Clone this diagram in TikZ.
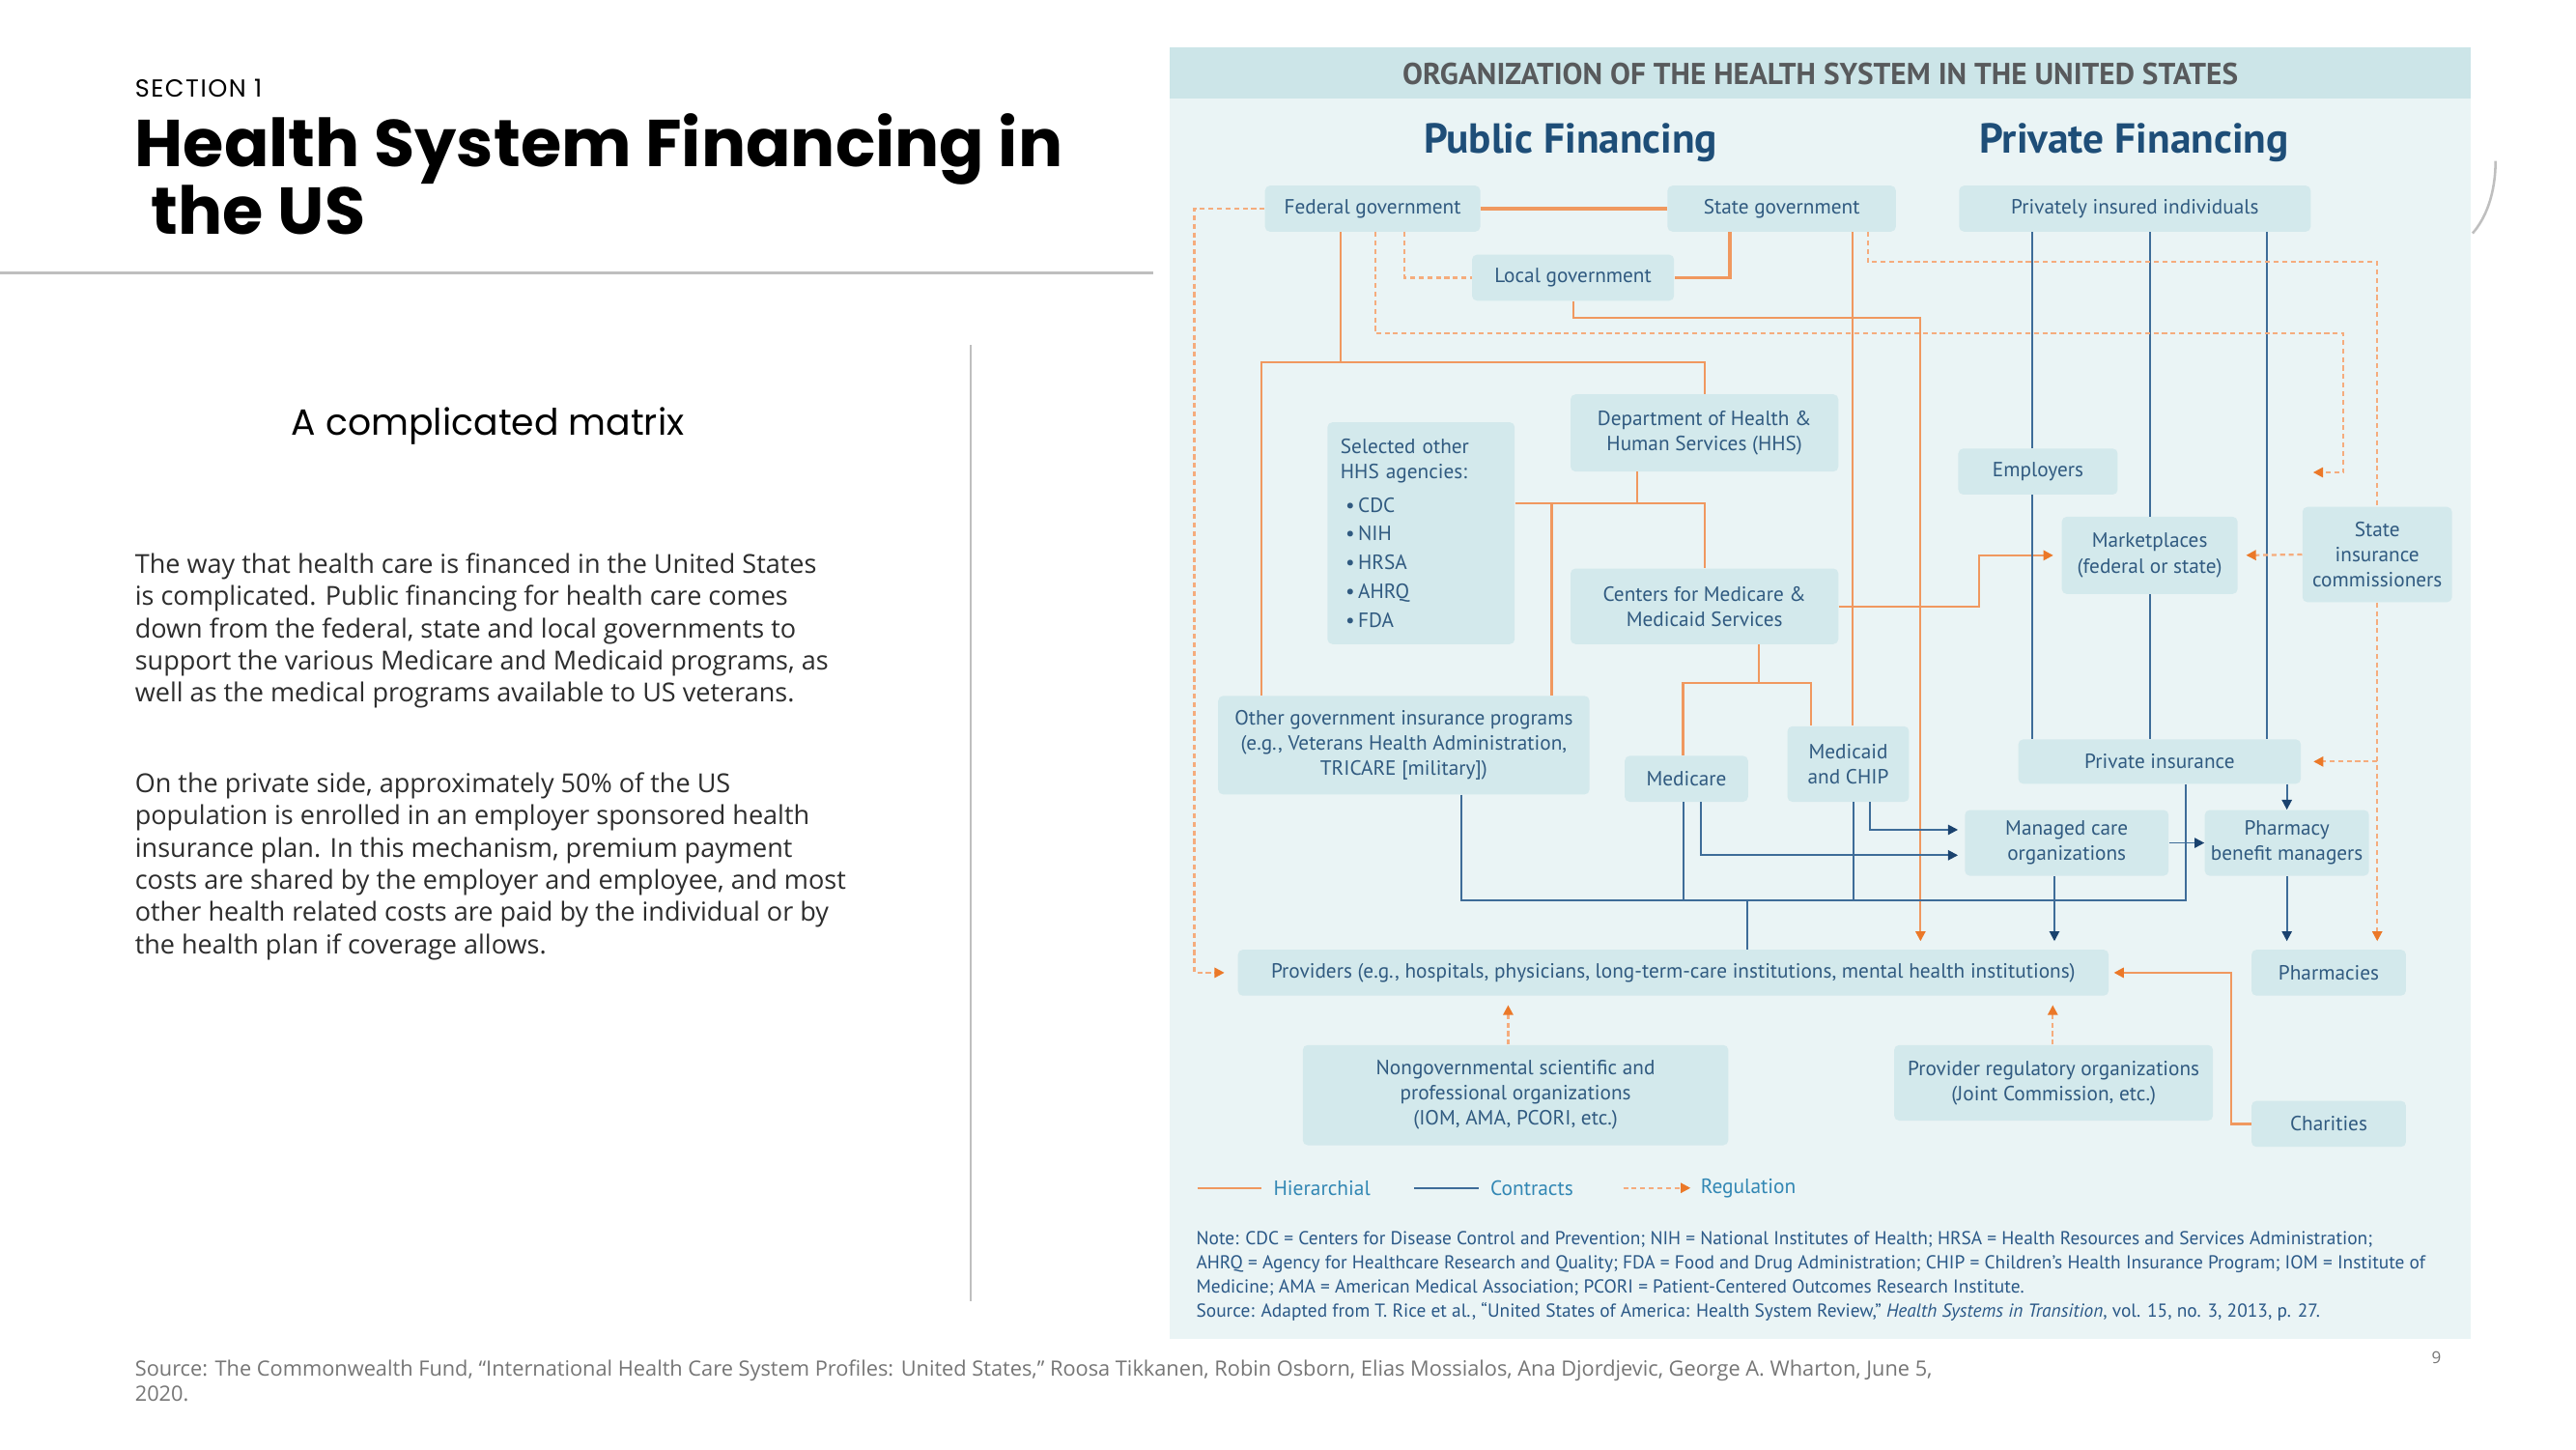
\documentclass[tikz,border=0pt]{standalone}
\usepackage{fontspec}
\setmainfont{Open Sans}
\newfontfamily\headfont{Poppins}
\newfontfamily\dgfont{PT Sans}
\usetikzlibrary{arrows.meta, positioning, calc}

\definecolor{PanelBg}{RGB}{234,244,245}
\definecolor{BandFill}{RGB}{204,229,232}
\definecolor{BoxFill}{RGB}{211,233,236}
\definecolor{BoxText}{RGB}{48,90,128}
\definecolor{HeadBlue}{RGB}{30,78,120}
\definecolor{BandText}{RGB}{88,90,92}
\definecolor{HierOrange}{RGB}{240,152,95}
\definecolor{RegOrange}{RGB}{245,172,125}
\definecolor{TipOrange}{RGB}{235,120,40}
\definecolor{ContractBlue}{RGB}{62,108,152}
\definecolor{TipNavy}{RGB}{26,66,110}
\definecolor{LegendText}{RGB}{50,135,180}
\definecolor{NoteText}{RGB}{42,88,135}
\definecolor{RuleGray}{RGB}{191,191,191}
\definecolor{FootGray}{RGB}{118,118,118}
\definecolor{BodyText}{RGB}{45,45,45}

\begin{document}
\begin{tikzpicture}[x=1pt, y=-1pt,
        box/.style={fill=BoxFill, rounded corners=3pt, inner sep=0pt, align=center, text=BoxText, font=\dgfont\fontsize{12.5}{15.3}\selectfont},
        sz/.style 2 args={minimum width=#1pt, minimum height=#2pt},
        hier/.style={draw=HierOrange, line width=1.3pt},
        contract/.style={draw=ContractBlue, line width=1.1pt},
        reg/.style={draw=RegOrange, line width=1.3pt, dash pattern=on 3pt off 2.2pt},
        htip/.style={-{Triangle[length=6pt, width=6pt, color=TipOrange]}},
        ctip/.style={-{Triangle[length=6pt, width=6pt, color=TipNavy]}},
        bodytext/.style={anchor=north west, inner sep=0pt, align=left, text=BodyText, font=\fontsize{15.9}{19.6}\selectfont},
        legend/.style={anchor=west, inner sep=0pt, text=LegendText, font=\dgfont\fontsize{12.6}{14}\selectfont}
    ]
    \useasboundingbox (0,0) rectangle (1568,882);
    \fill[white] (0,0) rectangle (1568,882);

    % slide text
    \node[anchor=base west, inner sep=0pt, font=\headfont\fontsize{15}{17}\selectfont\addfontfeature{LetterSpace=6}] (section) at (82,59) {SECTION 1};
    \node[anchor=north west, inner sep=0pt, align=left, font=\headfont\bfseries\fontsize{40.3}{41}\selectfont] (title) at (82,69) {Health System Financing in\\\hspace*{0.25em}the US};
    \draw[RuleGray, line width=2pt] (0,166) -- (702,166);
    \draw[RuleGray, line width=1.2pt] (591,210) -- (591,792);
    \node[anchor=base, inner sep=0pt, font=\headfont\fontsize{22.2}{25}\selectfont] (subtitle) at (297,265) {A complicated matrix};
    \node[bodytext] (para1) at (82,336.5) {The way that health care is financed in the United States\\is complicated. Public financing for health care comes\\down from the federal, state and local governments to\\support the various Medicare and Medicaid programs, as\\well as the medical programs available to US veterans.};
    \node[bodytext] (para2) at (82,470) {On the private side, approximately 50\% of the US\\population is enrolled in an employer sponsored health\\insurance plan. In this mechanism, premium payment\\costs are shared by the employer and employee, and most\\other health related costs are paid by the individual or by\\the health plan if coverage allows.};
    \node[anchor=north west, inner sep=0pt, align=left, text=FootGray, font=\fontsize{12.8}{15}\selectfont] (source) at (82,827.5) {Source: The Commonwealth Fund, “International Health Care System Profiles: United States,” Roosa Tikkanen, Robin Osborn, Elias Mossialos, Ana Djordjevic, George A. Wharton, June 5,\\2020.};
    \node[text=FootGray, inner sep=0pt, font=\fontsize{10}{12}\selectfont] (pagenum) at (1483,826) {9};
    \draw[RuleGray, line width=1.5pt] (1519,98) .. controls (1519,118) and (1513,133) .. (1505,142);

    % diagram panel
    \fill[PanelBg] (712,29) rectangle (1504,815);
    \fill[BandFill] (712,29) rectangle (1504,60);
    \node[text=BandText, font=\dgfont\bfseries\fontsize{18.4}{20}\selectfont] (dgtitle) at (1108,45) {ORGANIZATION OF THE HEALTH SYSTEM IN THE UNITED STATES};
    \node[text=HeadBlue, font=\dgfont\bfseries\fontsize{25.5}{28}\selectfont] (pubhead) at (956,87) {Public Financing};
    \node[text=HeadBlue, font=\dgfont\bfseries\fontsize{25.5}{28}\selectfont] (privhead) at (1299,87) {Private Financing};

    \node[box, sz={131}{28}] (fed) at (835.5,127) {Federal government};
    \node[box, sz={139}{28}] (state) at (1084.5,127) {State government};
    \node[box, sz={214}{28}] (privind) at (1299.5,127) {Privately insured individuals};
    \node[box, sz={123}{28}] (local) at (957.5,169) {Local government};
    \node[box, sz={163}{47}] (hhs) at (1037.5,263.5) {Department of Health \&\\Human Services (HHS)};
    \node[box, sz={114}{135}, align=left, text width=98pt] (agencies) at (865,324.5) {Selected other\\HHS agencies:\\[5pt]\hspace*{3pt}•\,CDC\\[2.2pt]\hspace*{3pt}•\,NIH\\[2.2pt]\hspace*{3pt}•\,HRSA\\[2.2pt]\hspace*{3pt}•\,AHRQ\\[2.2pt]\hspace*{3pt}•\,FDA};
    \node[box, sz={163}{46}] (cms) at (1037.5,369) {Centers for Medicare \&\\Medicaid Services};
    \node[box, sz={226}{60}] (othergov) at (854.5,453.5) {Other government insurance programs\\(e.g., Veterans Health Administration,\\TRICARE [military])};
    \node[box, sz={75}{28}] (medicare) at (1026.5,474) {Medicare};
    \node[box, sz={74}{46}] (medicaid) at (1125,465) {Medicaid\\and CHIP};
    \node[box, sz={97}{28}] (employers) at (1240.5,287) {Employers};
    \node[box, sz={107}{47}] (market) at (1308.5,338) {Marketplaces\\(federal or state)};
    \node[box, sz={91}{58}] (sic) at (1447,337.5) {State\\insurance\\commissioners};
    \node[box, sz={172}{27}] (privins) at (1314.5,463.5) {Private insurance};
    \node[box, sz={124}{40}] (mco) at (1258,513) {Managed care\\organizations};
    \node[box, sz={100}{40}] (pbm) at (1392,513) {Pharmacy\\benefit managers};
    \node[box, sz={530}{28}] (providers) at (1018.5,592) {Providers (e.g., hospitals, physicians, long-term-care institutions, mental health institutions)};
    \node[box, sz={94}{28}] (pharmacies) at (1417.5,592) {Pharmacies};
    \node[box, sz={259}{61}] (ngo) at (922.5,666.5) {Nongovernmental scientific and\\professional organizations\\(IOM, AMA, PCORI, etc.)};
    \node[box, sz={194}{46}] (provreg) at (1250,659) {Provider regulatory organizations\\(Joint Commission, etc.)};
    \node[box, sz={94}{28}] (charities) at (1417.5,684) {Charities};

    % hierarchical
    \draw[hier, line width=2pt] (fed.east) -- (state.west);
    \draw[hier, line width=2pt] (state.south -| 1053,0) |- (local.east);
    \draw[hier, htip, shorten >=5pt] (local.south) -- ++(0,10) -| (providers.north -| 1169,0);
    \draw[hier] (state.south -| 1127.5,0) -- (medicaid.north -| 1127.5,0);
    \coordinate (fedjoin) at (816,220.5);
    \draw[hier] (fed.south -| fedjoin) -- (fedjoin);
    \draw[hier] (othergov.north -| 768,0) |- (hhs.north |- fedjoin) -- (hhs.north);
    \coordinate (hhsjoin) at (996.5,306.5);
    \draw[hier] (hhs.south -| hhsjoin) -- (hhsjoin);
    \draw[hier] (agencies.east |- hhsjoin) -| (cms.north);
    \draw[hier] (othergov.north -| 944.5,0) -- (944.5,306.5);
    \coordinate (cmsjoin) at (1070.5,415.5);
    \draw[hier] (cms.south -| cmsjoin) -- (cmsjoin);
    \draw[hier] (medicare.north -| 1024.5,0) |- (cmsjoin) -| (medicaid.north -| 1102.5,0);
    \draw[hier, htip, shorten >=5pt] (cms.east) -- (1204.5,369) |- (market.west);
    \draw[hier, htip, shorten >=3pt] (charities.west) -| (providers.east -| 1358,0) -- (providers.east);

    % contracts
    \draw[contract] (privind.south -| 1237,0) -- (employers.north -| 1237,0);
    \draw[contract] (employers.south -| 1237,0) -- (privins.north -| 1237,0);
    \draw[contract] (privind.south -| market.north) -- (market.north);
    \draw[contract] (market.south) -- (privins.north -| market.south);
    \draw[contract] (privind.south -| 1380,0) -- (privins.north -| 1380,0);
    \coordinate (busL) at (889.5,548);
    \coordinate (busR) at (1330.5,548);
    \coordinate (busdrop) at (1063.5,548);
    \draw[contract] (othergov.south -| busL) -- (busL) -- (busR) -- (privins.south -| busR);
    \draw[contract] (medicare.south -| 1024.5,0) -- (busL -| 1024.5,0);
    \draw[contract] (medicaid.south -| 1128,0) -- (busL -| 1128,0);
    \draw[contract] (busdrop) -- (providers.north -| busdrop);
    \draw[contract, ctip, shorten >=4pt] (medicare.south -| 1035.5,0) |- ([yshift=-7.5pt]mco.west);
    \draw[contract, ctip, shorten >=4pt] (medicaid.south -| 1138,0) |- ([yshift=8pt]mco.west);
    \draw[contract, ctip] (mco.east) -- (pbm.west);
    \draw[contract, ctip] (privins.south -| pbm.north) -- (pbm.north);
    \draw[contract, ctip, shorten >=5pt] (pbm.south) -- (pbm.south |- pharmacies.north);
    \draw[contract, ctip, shorten >=5pt] (mco.south -| 1250.5,0) -- (providers.north -| 1250.5,0);

    % regulation
    \draw[reg, htip, shorten >=8pt] (fed.west) -| (providers.west -| 727,0) -- (providers.west);
    \draw[reg] (fed.south -| 855,0) |- (local.west);
    \coordinate (empreg) at (1408,287.5);
    \draw[reg, htip] (fed.south -| 837,0) |- (1426.5,203) |- (empreg);
    \draw[reg] (state.south -| 1137,0) |- (sic.north |- 0,159.5) -- (sic.north);
    \draw[reg, htip, shorten >=5pt] (sic.south) -- (sic.south |- pharmacies.north);
    \draw[reg, htip, shorten >=7.5pt] (sic.south |- privins.east) -- (privins.east);
    \draw[reg, htip, shorten >=5pt] (sic.west) -- (market.east);
    \draw[reg, htip, shorten >=5.5pt] (ngo.north -| 918,0) -- (providers.south -| 918,0);
    \draw[reg, htip, shorten >=5.5pt] (provreg.north -| 1249.5,0) -- (providers.south -| 1249.5,0);

    % legend and note
    \draw[hier] (729,723) -- (768,723);
    \node[legend] (leghier) at (775,723) {Hierarchial};
    \draw[contract] (861,723) -- (900,723);
    \node[legend] (legcontract) at (907,723) {Contracts};
    \draw[reg, htip] (988,723) -- (1029,723);
    \node[legend] (legreg) at (1035,723) {Regulation};
    \node[anchor=north west, inner sep=0pt, align=left, text=NoteText, font=\dgfont\fontsize{11.4}{14.7}\selectfont] (note) at (728,749.5) {Note: CDC = Centers for Disease Control and Prevention; NIH = National Institutes of Health; HRSA = Health Resources and Services Administration;\\AHRQ = Agency for Healthcare Research and Quality; FDA = Food and Drug Administration; CHIP = Children’s Health Insurance Program; IOM = Institute of\\Medicine; AMA = American Medical Association; PCORI = Patient-Centered Outcomes Research Institute.\\Source: Adapted from T. Rice et al., “United States of America: Health System Review,” \textit{Health Systems in Transition}, vol. 15, no. 3, 2013, p. 27.};
\end{tikzpicture}
\end{document}
